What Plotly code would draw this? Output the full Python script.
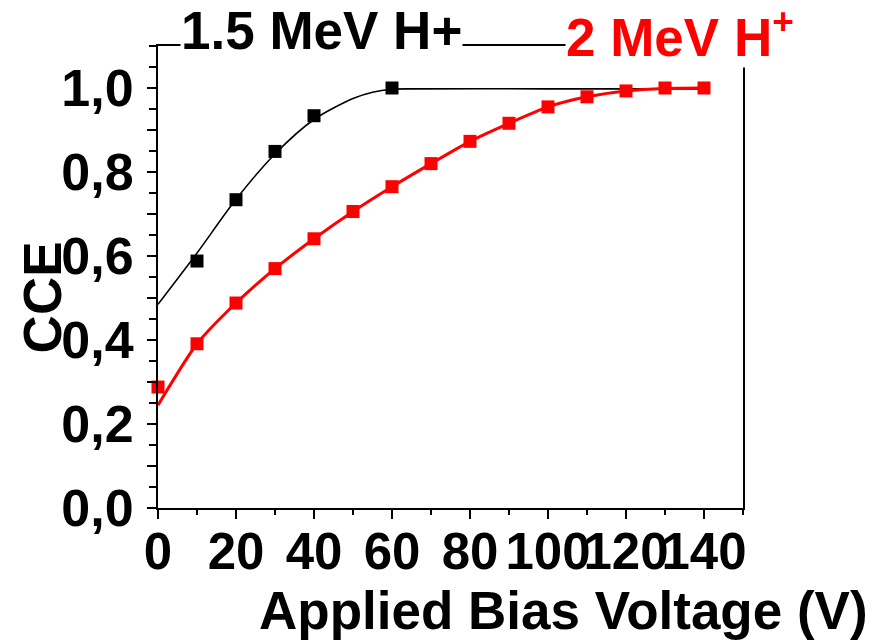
import plotly.graph_objects as go

# Data
x_black = [10, 20, 30, 40, 60]
y_black = [0.588, 0.734, 0.849, 0.934, 1.0]
fit_black_x = [0, 10, 20, 30, 40, 50, 55, 60, 65, 100, 140]
fit_black_y = [0.485, 0.607, 0.735, 0.843, 0.925, 0.975, 0.990, 0.997, 0.998, 0.998, 0.998]

x_red = [0, 10, 20, 30, 40, 50, 60, 70, 80, 90, 100, 110, 120, 130, 140]
y_red = [0.288, 0.391, 0.488, 0.570, 0.641, 0.706, 0.765, 0.820, 0.873, 0.916, 0.955, 0.979, 0.993, 1.0, 1.0]
fit_red_x = [0, 10, 20, 30, 40, 50, 60, 70, 80, 90, 100, 110, 120, 130, 140]
fit_red_y = [0.245, 0.391, 0.488, 0.570, 0.641, 0.706, 0.765, 0.820, 0.873, 0.916, 0.955, 0.979, 0.993, 0.999, 1.0]

x_tickvals = [0, 20, 40, 60, 80, 100, 120, 140]
x_ticktext = ["0", "20", "40", "60", "80", "100", "120", "140"]
y_tickvals = [0.0, 0.1, 0.2, 0.3, 0.4, 0.5, 0.6, 0.7, 0.8, 0.9, 1.0]
y_ticktext = ["0,0", "", "0,2", "", "0,4", "", "0,6", "", "0,8", "", "1,0"]

FONT = "Arial, Liberation Sans, sans-serif"

fig = go.Figure()
fig.add_trace(go.Scatter(x=fit_black_x, y=fit_black_y, mode="lines",
                         line=dict(color="black", width=1.6, shape="spline", smoothing=0.8),
                         cliponaxis=False, showlegend=False, hoverinfo="skip"))
fig.add_trace(go.Scatter(x=fit_red_x, y=fit_red_y, mode="lines",
                         line=dict(color="#ff0000", width=3, shape="spline", smoothing=0.6),
                         cliponaxis=False, showlegend=False, hoverinfo="skip"))
fig.add_trace(go.Scatter(x=x_black, y=y_black, mode="markers",
                         marker=dict(symbol="square", size=13, color="black"),
                         cliponaxis=False, showlegend=False))
fig.add_trace(go.Scatter(x=x_red, y=y_red, mode="markers",
                         marker=dict(symbol="square", size=13, color="#ff0000"),
                         cliponaxis=False, showlegend=False))

L, R, T, B = 158, 142.5, 45.7, 132.3
W, H = 886, 640
pw, ph = W - L - R, H - T - B

def px(xp):
    return (xp - L) / pw

def py(yp):
    return (H - B - yp) / ph

fig.update_layout(
    width=W, height=H,
    margin=dict(l=L, r=R, t=T, b=B, pad=0),
    paper_bgcolor="white", plot_bgcolor="white",
    font=dict(family=FONT, color="black"),
    xaxis=dict(range=[0, 150], tickvals=x_tickvals, ticktext=x_ticktext,
               ticks="outside", ticklen=9, tickwidth=2, tickcolor="black",
               minor=dict(dtick=10, tick0=0, ticks="outside", ticklen=5, tickwidth=2, tickcolor="black"),
               showline=True, linecolor="black", linewidth=2, mirror=True,
               showgrid=False, zeroline=False, tickangle=0,
               tickfont=dict(family=FONT, size=51, color="black", weight="bold"),
               ticklabelstandoff=-11,
               layer="above traces"),
    yaxis=dict(range=[0, 1.1], tickvals=y_tickvals, ticktext=y_ticktext,
               ticks="outside", ticklen=9, tickwidth=2, tickcolor="black",
               minor=dict(dtick=0.05, tick0=0, ticks="outside", ticklen=7, tickwidth=2, tickcolor="black"),
               showline=True, linecolor="black", linewidth=2, mirror=True,
               showgrid=False, zeroline=False,
               tickfont=dict(family=FONT, size=52, color="black", weight="bold"),
               ticklabelstandoff=3,
               layer="above traces"),
)

ann_font = dict(family=FONT, size=53, weight="bold")
fig.add_annotation(text="1.5 MeV H+", xref="paper", yref="paper",
                   x=px(322), y=py(30), xanchor="center", yanchor="middle",
                   showarrow=False, bgcolor="white", borderpad=0,
                   font=dict(ann_font, color="black"))
fig.add_annotation(text="2 MeV H<sup>+</sup>", xref="paper", yref="paper",
                   x=px(680), y=py(33), xanchor="center", yanchor="middle",
                   showarrow=False, bgcolor="white", borderpad=0,
                   font=dict(ann_font, color="#ff0000"))
fig.add_annotation(text="Applied Bias Voltage (V)", xref="paper", yref="paper",
                   x=px(564), y=py(610), xanchor="center", yanchor="middle",
                   showarrow=False, font=dict(ann_font, color="black"))
fig.add_annotation(text="CCE", xref="paper", yref="paper",
                   x=px(42), y=py(297), xanchor="center", yanchor="middle",
                   textangle=-90, showarrow=False, font=dict(ann_font, color="black"))

fig.write_html("out.html")
